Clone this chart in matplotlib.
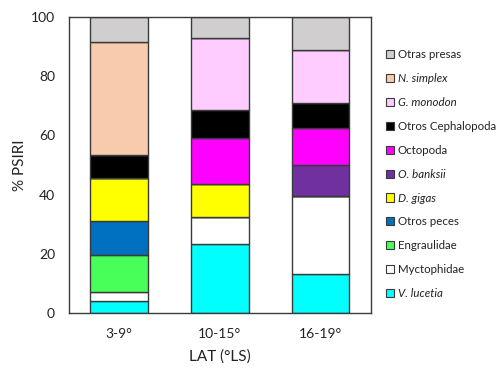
import matplotlib
matplotlib.use('Agg')
import matplotlib.pyplot as plt
import numpy as np
from matplotlib.patches import Patch

# latitude bands (x categories)
lat_bands = ['3-9°', '10-15°', '16-19°']

# % PSIRI per prey group, stacked bottom -> top
v_lucetia = [4.0, 23.1, 13.0]
myctophidae = [3.0, 9.2, 26.6]
engraulidae = [12.6, 0, 0]
otros_peces = [11.4, 0, 0]
d_gigas = [14.7, 11.3, 0]
o_banksii = [0, 0, 10.3]
octopoda = [0, 15.4, 12.6]
otros_ceph = [7.7, 9.5, 8.5]
g_monodon = [0, 24.4, 17.8]
n_simplex = [38.2, 0, 0]
otras_presas = [8.4, 7.1, 11.2]

series = [
    ('V. lucetia', v_lucetia, '#00FFFF', True),
    ('Myctophidae', myctophidae, '#FFFFFF', False),
    ('Engraulidae', engraulidae, '#47FF58', False),
    ('Otros peces', otros_peces, '#0070C0', False),
    ('D. gigas', d_gigas, '#FFFF00', True),
    ('O. banksii', o_banksii, '#7030A0', True),
    ('Octopoda', octopoda, '#FF00FF', False),
    ('Otros Cephalopoda', otros_ceph, '#000000', False),
    ('G. monodon', g_monodon, '#FFCCFF', True),
    ('N. simplex', n_simplex, '#F8CBAD', True),
    ('Otras presas', otras_presas, '#D0CECE', False),
]

font = ['Lato', 'DejaVu Sans']
plt.rcParams['font.family'] = font

fig = plt.figure(figsize=(5.01, 3.69), dpi=100)
ax = fig.add_axes([0.1377, 0.1526, 0.6022, 0.8005])

x = np.arange(len(lat_bands))
bottom = np.zeros(len(lat_bands))
edge = '#3a3a3a'
for name, vals, color, _ in series:
    vals = np.array(vals, dtype=float)
    ax.bar(x, vals, width=0.573, bottom=bottom, color=color,
           edgecolor=edge, linewidth=1.0, zorder=2)
    bottom += vals

ax.set_xlim(-0.5, 2.5)
ax.set_ylim(0, 100)
ax.set_yticks([0, 20, 40, 60, 80, 100])
ax.set_xticks(x)
ax.set_xticklabels(lat_bands)
ax.tick_params(length=0, labelsize=10, colors='#222222')
ax.tick_params(axis='y', pad=10)
ax.tick_params(axis='x', pad=11)
for sp in ax.spines.values():
    sp.set_color(edge)
    sp.set_linewidth(1.0)

ax.set_ylabel('% PSIRI', fontsize=11, color='#222222', labelpad=3)
ax.set_xlabel('LAT (°LS)', fontsize=11, color='#222222', labelpad=7)

handles = [Patch(facecolor=c, edgecolor=edge, linewidth=0.8) for _, _, c, _ in series][::-1]
labels = [n for n, _, _, _ in series][::-1]
leg = ax.legend(handles, labels, loc='upper left', bbox_to_anchor=(0.771, 0.867),
                bbox_transform=fig.transFigure, frameon=False, fontsize=8.3,
                handlelength=0.7, handleheight=0.7, handletextpad=0.3,
                labelspacing=1.12, borderpad=0, borderaxespad=0)
italic = [s[3] for s in series][::-1]
for t, it in zip(leg.get_texts(), italic):
    t.set_color('#222222')
    if it:
        t.set_style('italic')

fig.savefig('out.png', dpi=100)
